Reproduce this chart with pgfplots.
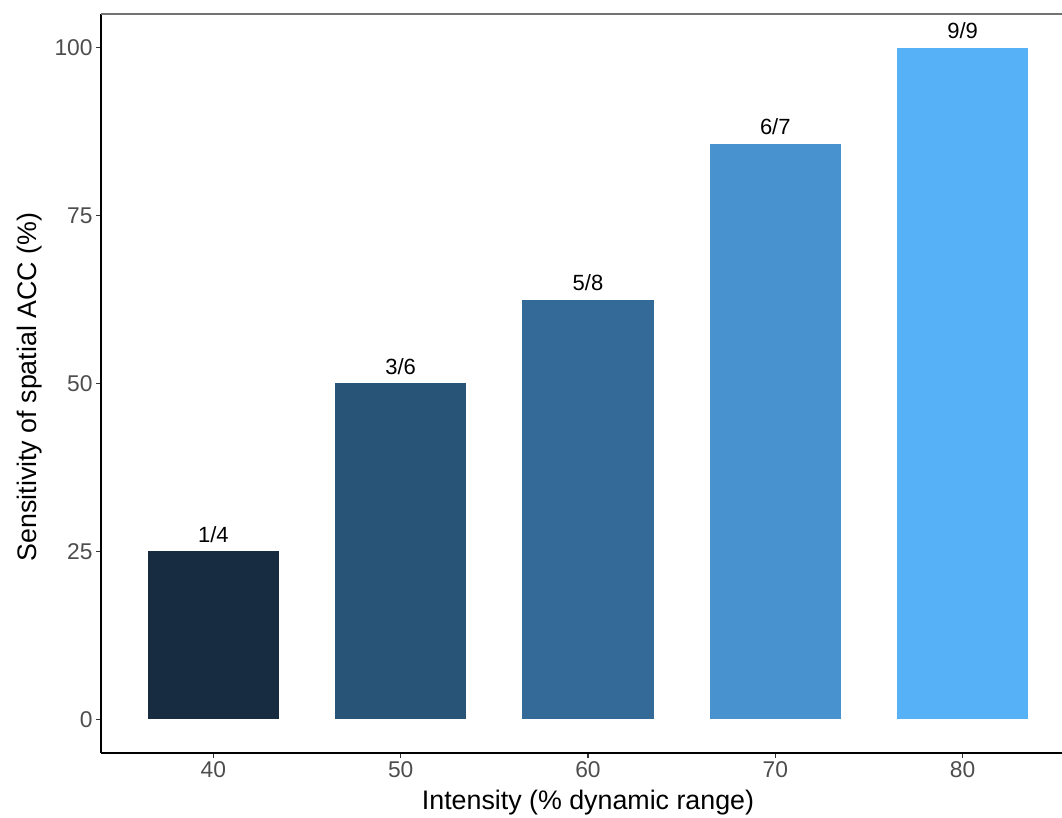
\documentclass[border=0pt]{standalone}
\usepackage{pgfplots}
\pgfplotsset{compat=1.18}
\usepackage{fontspec}
\setmainfont{Liberation Sans}
\definecolor{tickgray}{HTML}{4D4D4D}
\definecolor{cA}{HTML}{172B41}
\definecolor{cB}{HTML}{285577}
\definecolor{cC}{HTML}{336A98}
\definecolor{cD}{HTML}{4893CF}
\definecolor{cE}{HTML}{56B1F7}
\begin{document}
\begin{tikzpicture}
\useasboundingbox (0,0) rectangle (531pt,409pt);
\begin{axis}[
  at={(50.5pt,32.5pt)}, anchor=south west,
  width=487pt, height=369.5pt, scale only axis,
  xmin=-0.6, xmax=4.6, ymin=-5, ymax=105,
  ybar, bar width=0.7, bar shift=0pt,
  axis x line*=bottom, axis y line*=left,
  axis line style={-, black, line width=0.8pt},
  xtick={0,1,2,3,4}, xticklabels={40,50,60,70,80},
  ytick={0,25,50,75,100},
  tick align=outside, major tick length=2.5pt,
  tick style={color=black!80, line width=0.6pt},
  /pgf/number format/assume math mode=true,
  ticklabel style={font=\fontsize{11.4}{13}\selectfont, text=tickgray},
  yticklabel style={inner sep=1.5pt},
  xticklabel style={inner sep=1.5pt},
  clip=false,
  point meta=explicit symbolic,
  nodes near coords,
  every node near coord/.append style={font=\fontsize{11}{13}\selectfont, text=black, inner sep=1.5pt, yshift=2.5pt},
]
\addplot[fill=cA, draw=none] coordinates {(0,25) [1/4]};
\addplot[fill=cB, draw=none] coordinates {(1,50) [3/6]};
\addplot[fill=cC, draw=none] coordinates {(2,62.5) [5/8]};
\addplot[fill=cD, draw=none] coordinates {(3,85.71) [6/7]};
\addplot[fill=cE, draw=none] coordinates {(4,100) [9/9]};
\draw[color=black!55, line width=0.6pt] (rel axis cs:0,1) -- (rel axis cs:1,1);
\end{axis}
\node[font=\fontsize{13.4}{16}\selectfont] at (294pt,7.5pt) {Intensity (\% dynamic range)};
\node[font=\fontsize{13.4}{16}\selectfont, rotate=90] at (15pt,215.5pt) {Sensitivity of spatial ACC (\%)};
\end{tikzpicture}
\end{document}
